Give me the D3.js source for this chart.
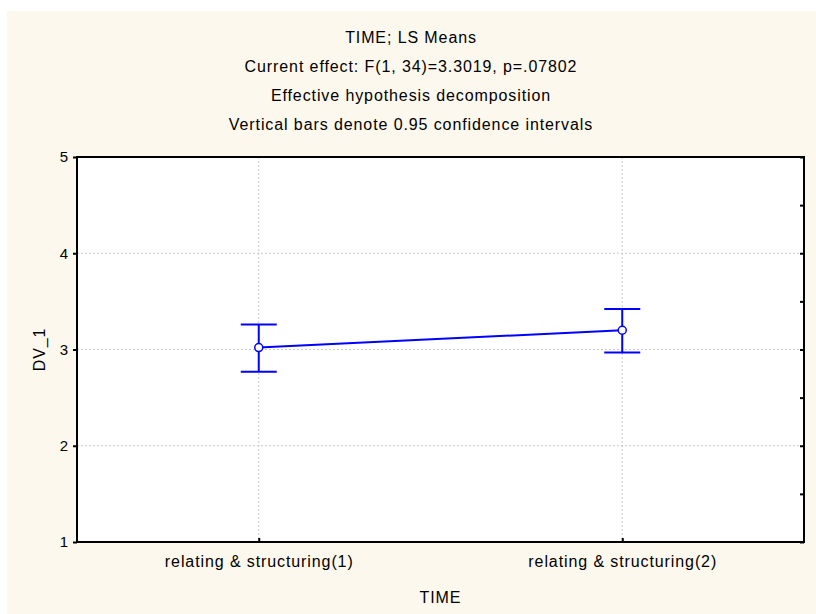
<!DOCTYPE html>
<html>
<head>
<meta charset="utf-8">
<script src="https://cdn.jsdelivr.net/npm/d3@7"></script>
<style>
body { margin:0; background:#ffffff; }
svg text { font-family: "Liberation Sans", Arial, sans-serif; fill:#000; letter-spacing:0.9px; }
</style>
</head>
<body>
<div id="chart"></div>
<script>
const categories = ["relating & structuring(1)", "relating & structuring(2)"];
const means = [3.02, 3.20];
const lower = [2.77, 2.97];
const upper = [3.26, 3.42];
const yTicks = [1, 2, 3, 4, 5];
const yMinor = [1.5, 2.5, 3.5, 4.5];
const titleLines = [
    "TIME; LS Means",
    "Current effect: F(1, 34)=3.3019, p=.07802",
    "Effective hypothesis decomposition",
    "Vertical bars denote 0.95 confidence intervals"
];

const width = 816, height = 614;
const pLeft = 77, pRight = 804, pTop = 157, pBottom = 542;

const svg = d3.select("#chart").append("svg")
    .attr("width", width)
    .attr("height", height);

svg.append("rect")
    .attr("x", 7).attr("y", 11)
    .attr("width", width - 7).attr("height", height - 11)
    .attr("fill", "#fdf8ed");

svg.append("rect")
    .attr("x", pLeft).attr("y", pTop)
    .attr("width", pRight - pLeft).attr("height", pBottom - pTop)
    .attr("fill", "white");

const x = d3.scalePoint()
    .domain(categories)
    .range([pLeft, pRight])
    .padding(0.5);

const y = d3.scaleLinear()
    .domain([1, 5])
    .range([pBottom, pTop]);

// grid
svg.append("g")
    .selectAll("line")
    .data(yTicks.slice(1, -1))
    .enter().append("line")
    .attr("x1", pLeft).attr("x2", pRight)
    .attr("y1", d => y(d)).attr("y2", d => y(d))
    .attr("stroke", "#c8c8c8")
    .attr("stroke-dasharray", "2,2");

svg.append("g")
    .selectAll("line")
    .data(categories)
    .enter().append("line")
    .attr("x1", d => x(d)).attr("x2", d => x(d))
    .attr("y1", pTop).attr("y2", pBottom)
    .attr("stroke", "#c8c8c8")
    .attr("stroke-dasharray", "2,2");

// axes
svg.append("g")
    .attr("transform", `translate(${pLeft},0)`)
    .call(d3.axisLeft(y).tickValues(yTicks).tickSize(4).tickPadding(4).tickFormat(d3.format("d")))
    .call(g => g.select(".domain").remove())
    .call(g => g.selectAll("line").attr("stroke-width", 2))
    .call(g => g.selectAll("text").style("font-size", "15px"));

svg.append("g")
    .attr("transform", `translate(${pRight},0)`)
    .call(d3.axisLeft(y).tickValues(yTicks.concat(yMinor)).tickSize(4).tickFormat(""))
    .call(g => g.select(".domain").remove())
    .call(g => g.selectAll("line").attr("stroke-width", 2));

svg.append("g")
    .attr("transform", `translate(0,${pBottom})`)
    .call(d3.axisBottom(x).tickSize(-4).tickPadding(14))
    .call(g => g.select(".domain").remove())
    .call(g => g.selectAll("line").attr("stroke-width", 2))
    .call(g => g.selectAll("text").style("font-size", "16px"));

svg.append("rect")
    .attr("x", pLeft).attr("y", pTop)
    .attr("width", pRight - pLeft).attr("height", pBottom - pTop)
    .attr("fill", "none")
    .attr("stroke", "black")
    .attr("stroke-width", 2);

// error bars
const capW = 18;
const bars = svg.append("g")
    .selectAll("g")
    .data(categories)
    .enter().append("g")
    .attr("stroke", "#0000ff")
    .attr("stroke-width", 2);

bars.append("line")
    .attr("x1", d => x(d)).attr("x2", d => x(d))
    .attr("y1", (d, i) => y(lower[i])).attr("y2", (d, i) => y(upper[i]));
bars.append("line")
    .attr("x1", d => x(d) - capW).attr("x2", d => x(d) + capW)
    .attr("y1", (d, i) => y(upper[i])).attr("y2", (d, i) => y(upper[i]));
bars.append("line")
    .attr("x1", d => x(d) - capW).attr("x2", d => x(d) + capW)
    .attr("y1", (d, i) => y(lower[i])).attr("y2", (d, i) => y(lower[i]));

const line = d3.line()
    .x((d, i) => x(categories[i]))
    .y(d => y(d));

svg.append("path")
    .datum(means)
    .attr("fill", "none")
    .attr("stroke", "#0000ff")
    .attr("stroke-width", 2)
    .attr("d", line);

svg.append("g")
    .selectAll("circle")
    .data(means)
    .enter().append("circle")
    .attr("cx", (d, i) => x(categories[i]))
    .attr("cy", d => y(d))
    .attr("r", 4)
    .attr("fill", "white")
    .attr("stroke", "#0000ff")
    .attr("stroke-width", 1.5);

// titles
svg.append("g")
    .selectAll("text")
    .data(titleLines)
    .enter().append("text")
    .attr("x", 411)
    .attr("y", (d, i) => 43 + i * 29)
    .attr("text-anchor", "middle")
    .style("font-size", "16px")
    .text(d => d);

svg.append("text")
    .attr("x", (pLeft + pRight) / 2)
    .attr("y", 603)
    .attr("text-anchor", "middle")
    .style("font-size", "16px")
    .text("TIME");

svg.append("text")
    .attr("transform", `translate(45,${(pTop + pBottom) / 2}) rotate(-90)`)
    .attr("text-anchor", "middle")
    .style("font-size", "16px")
    .text("DV_1");
</script>
</body>
</html>
